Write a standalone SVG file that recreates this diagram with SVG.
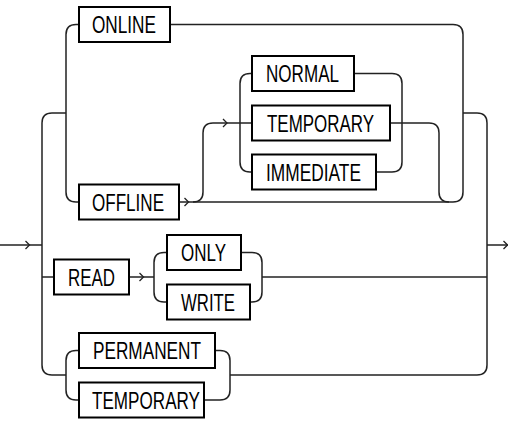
<svg xmlns="http://www.w3.org/2000/svg" width="508" height="422" viewBox="0 0 508 422">
<style>
.box{fill:#fff;stroke:#000;stroke-width:2}
.lbl{font-family:"Liberation Sans",Arial,sans-serif;font-size:23.5px;fill:#000}
.ln{fill:none;stroke:#222;stroke-width:1.5}
.ar{fill:none;stroke:#222;stroke-width:1.3;stroke-linejoin:miter}
</style>
<rect width="508" height="422" fill="#fff"/>
<g id="connectors">
<path class="ln" d="M0,245 H42"/>
<path class="ar" d="M25.5,241 L29.5,245 L25.5,249"/>
<path class="ln" d="M66,113 H52 Q42,113 42,123 V365 Q42,375 52,375 H66"/>
<path class="ln" d="M79,24.5 H76 Q66,24.5 66,34.5 V192 Q66,202 76,202 H79"/>
<path class="ln" d="M170,24.5 H453 Q463,24.5 463,34.5 V192 Q463,202 453,202 H179"/>
<path class="ln" d="M463,113 H477 Q487,113 487,123 V365 Q487,375 477,375 H230"/>
<path class="ln" d="M487,245 H508"/>
<path class="ar" d="M503.5,241 L507.5,245 L503.5,249"/>
<path class="ar" d="M184.5,198 L188.5,202 L184.5,206"/>
<path class="ln" d="M193,202 Q203,202 203,192 V133 Q203,123 213,123 H252"/>
<path class="ar" d="M223,119 L227,123 L223,127"/>
<path class="ln" d="M252,73.5 H250 Q240,73.5 240,83.5 V162 Q240,172 250,172 H252"/>
<path class="ln" d="M354,73.5 H392 Q402,73.5 402,83.5 V162 Q402,172 392,172 H376"/>
<path class="ln" d="M390,123 H429 Q439,123 439,133 V192 Q439,202 449,202"/>
<path class="ln" d="M42,277 H54"/>
<path class="ln" d="M129,277 H154"/>
<path class="ar" d="M139.5,273 L143.5,277 L139.5,281"/>
<path class="ln" d="M167,252.5 H164 Q154,252.5 154,262.5 V292 Q154,302 164,302 H167"/>
<path class="ln" d="M241,252.5 H252 Q262,252.5 262,262.5 V292 Q262,302 252,302 H250"/>
<path class="ln" d="M262,277 H487"/>
<path class="ln" d="M79,350.5 H76 Q66,350.5 66,360.5 V390 Q66,400 76,400 H79"/>
<path class="ln" d="M215,350.5 H220 Q230,350.5 230,360.5 V390 Q230,400 220,400 H204"/>
</g>
<g id="n-online"><rect class="box" x="79" y="7" width="91" height="35"/><text class="lbl" x="92" y="33" textLength="64" lengthAdjust="spacingAndGlyphs">ONLINE</text></g>
<g id="n-offline"><rect class="box" x="79" y="184.5" width="100" height="35"/><text class="lbl" x="92" y="210.5" textLength="72" lengthAdjust="spacingAndGlyphs">OFFLINE</text></g>
<g id="n-normal"><rect class="box" x="252" y="56" width="102" height="35"/><text class="lbl" x="266" y="82" textLength="73" lengthAdjust="spacingAndGlyphs">NORMAL</text></g>
<g id="n-temporary1"><rect class="box" x="252" y="105.5" width="138" height="35"/><text class="lbl" x="267" y="131.5" textLength="107" lengthAdjust="spacingAndGlyphs">TEMPORARY</text></g>
<g id="n-immediate"><rect class="box" x="252" y="154.5" width="124" height="35"/><text class="lbl" x="266" y="180.5" textLength="95" lengthAdjust="spacingAndGlyphs">IMMEDIATE</text></g>
<g id="n-read"><rect class="box" x="54" y="259.5" width="75" height="35"/><text class="lbl" x="68" y="285.5" textLength="47" lengthAdjust="spacingAndGlyphs">READ</text></g>
<g id="n-only"><rect class="box" x="167" y="235" width="74" height="35"/><text class="lbl" x="181" y="261" textLength="45" lengthAdjust="spacingAndGlyphs">ONLY</text></g>
<g id="n-write"><rect class="box" x="167" y="284.5" width="83" height="35"/><text class="lbl" x="181" y="310.5" textLength="54" lengthAdjust="spacingAndGlyphs">WRITE</text></g>
<g id="n-permanent"><rect class="box" x="79" y="333" width="136" height="35"/><text class="lbl" x="93" y="359" textLength="108" lengthAdjust="spacingAndGlyphs">PERMANENT</text></g>
<g id="n-temporary2"><rect class="box" x="79" y="382.5" width="125" height="35"/><text class="lbl" x="92" y="408.5" textLength="108" lengthAdjust="spacingAndGlyphs">TEMPORARY</text></g>
</svg>
